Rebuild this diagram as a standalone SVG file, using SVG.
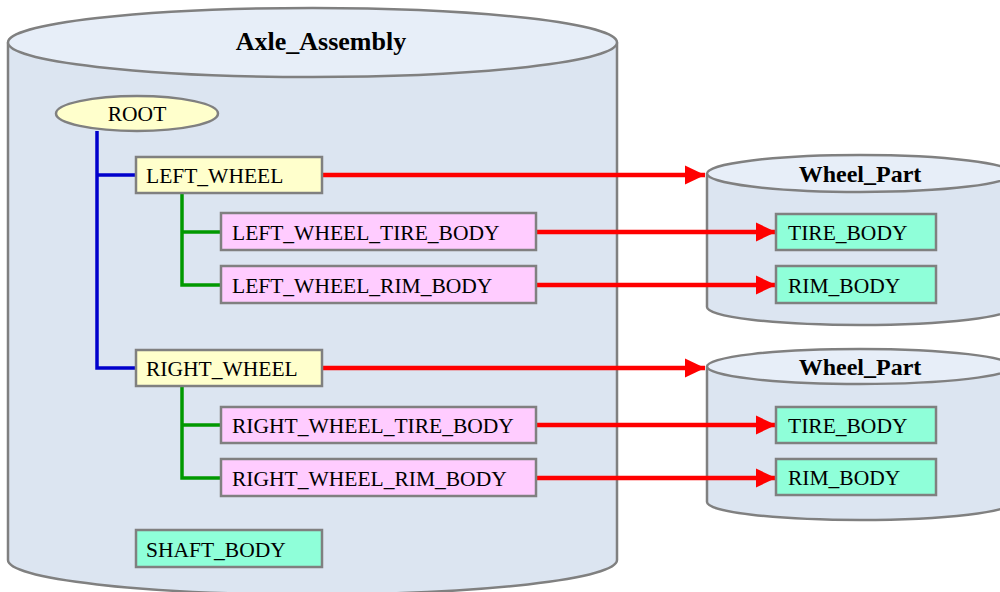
<svg xmlns="http://www.w3.org/2000/svg" width="1000" height="592" viewBox="0 0 1000 592">
<style>
.cyl{fill:#dce5f1;stroke:#808080;stroke-width:2.5}
.top{fill:#e7eef8;stroke:#808080;stroke-width:2.5}
.box{stroke:#808080;stroke-width:2.5}
.y{fill:#ffffcc}.p{fill:#ffccff}.g{fill:#8fffd9}
.t{font-family:"Liberation Serif",serif;font-size:21.5px;fill:#000}
.h{font-family:"Liberation Serif",serif;font-weight:bold;fill:#000;text-anchor:middle}
.blue{stroke:#0000cc;stroke-width:3.5;fill:none}
.green{stroke:#009900;stroke-width:3.5;fill:none}
.red{stroke:#ff0000;stroke-width:4.5;fill:none;marker-end:url(#ah)}
</style>
<defs>
<marker id="ah" markerUnits="userSpaceOnUse" markerWidth="20" markerHeight="20" viewBox="0 0 18 18" refX="18" refY="9" orient="auto">
<path d="M0,0.5 L18,9 L0,17.5 z" fill="#ff0000"/>
</marker>
</defs>
<rect width="1000" height="592" fill="#ffffff"/>
<g id="axle_assembly">
<path class="cyl" d="M8,42.5 L8,560 A304.5,34.5 0 0 0 617,560 L617,42.5"/>
<ellipse class="top" cx="312.5" cy="42.5" rx="304.5" ry="34.5"/>
<text class="h" x="321" y="50" font-size="26">Axle_Assembly</text>
</g>
<g id="wheel_part_1">
<path class="cyl" d="M707,173.5 L707,307 A153,18 0 0 0 1013,307 L1013,173.5"/>
<ellipse class="top" cx="860" cy="173.5" rx="153" ry="18.5"/>
<text class="h" x="860" y="182" font-size="24">Wheel_Part</text>
</g>
<g id="wheel_part_2">
<path class="cyl" d="M707,366.5 L707,502 A153,18 0 0 0 1013,502 L1013,366.5"/>
<ellipse class="top" cx="860" cy="366.5" rx="153" ry="17.5"/>
<text class="h" x="860" y="375" font-size="24">Wheel_Part</text>
</g>
<g id="connectors">
<path class="blue" d="M97,131 L97,368 L136,368 M97,175 L136,175"/>
<path class="green" d="M182,193 L182,285 L221,285 M182,232 L221,232"/>
<path class="green" d="M182,386 L182,478 L221,478 M182,425 L221,425"/>
<line class="red" x1="322" y1="175" x2="705" y2="175"/>
<line class="red" x1="536" y1="232" x2="776" y2="232"/>
<line class="red" x1="536" y1="285" x2="776" y2="285"/>
<line class="red" x1="322" y1="368" x2="705" y2="368"/>
<line class="red" x1="536" y1="425" x2="776" y2="425"/>
<line class="red" x1="536" y1="478" x2="776" y2="478"/>
</g>
<g id="root">
<ellipse cx="137" cy="113.5" rx="81" ry="17.5" fill="#ffffcc" stroke="#808080" stroke-width="2.5"/>
<text class="t" x="137" y="121" text-anchor="middle">ROOT</text>
</g>
<g id="left_wheel">
<rect class="box y" x="136" y="157" width="186" height="36"/>
<text class="t" x="146" y="183">LEFT_WHEEL</text>
</g>
<g id="left_wheel_tire_body">
<rect class="box p" x="221" y="213" width="315" height="37"/>
<text class="t" x="232" y="240">LEFT_WHEEL_TIRE_BODY</text>
</g>
<g id="left_wheel_rim_body">
<rect class="box p" x="221" y="266" width="315" height="37"/>
<text class="t" x="232" y="293">LEFT_WHEEL_RIM_BODY</text>
</g>
<g id="right_wheel">
<rect class="box y" x="136" y="350" width="186" height="36"/>
<text class="t" x="146" y="376">RIGHT_WHEEL</text>
</g>
<g id="right_wheel_tire_body">
<rect class="box p" x="221" y="407" width="315" height="36"/>
<text class="t" x="232" y="433">RIGHT_WHEEL_TIRE_BODY</text>
</g>
<g id="right_wheel_rim_body">
<rect class="box p" x="221" y="459" width="315" height="37"/>
<text class="t" x="232" y="486">RIGHT_WHEEL_RIM_BODY</text>
</g>
<g id="shaft_body">
<rect class="box g" x="136" y="530" width="186" height="37"/>
<text class="t" x="146" y="557">SHAFT_BODY</text>
</g>
<g id="tire_body_1">
<rect class="box g" x="776" y="214" width="160" height="36"/>
<text class="t" x="788" y="240">TIRE_BODY</text>
</g>
<g id="rim_body_1">
<rect class="box g" x="776" y="266" width="160" height="37"/>
<text class="t" x="788" y="293">RIM_BODY</text>
</g>
<g id="tire_body_2">
<rect class="box g" x="776" y="407" width="160" height="36"/>
<text class="t" x="788" y="433">TIRE_BODY</text>
</g>
<g id="rim_body_2">
<rect class="box g" x="776" y="459" width="160" height="36"/>
<text class="t" x="788" y="485">RIM_BODY</text>
</g>
</svg>
